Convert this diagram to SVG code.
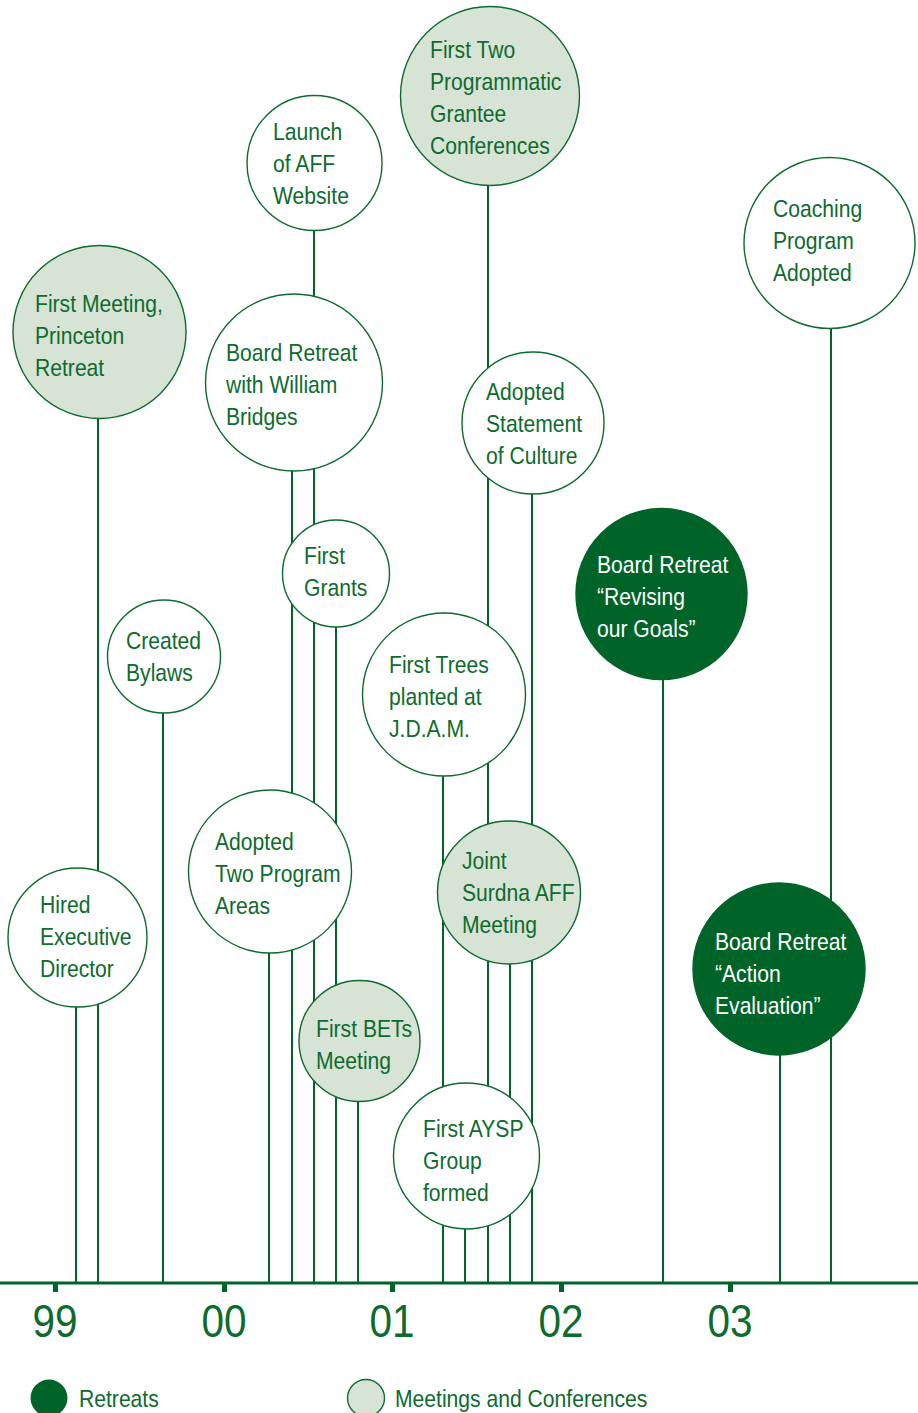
<svg xmlns="http://www.w3.org/2000/svg" width="918" height="1413" viewBox="0 0 918 1413">
<style>
text{font-family:"Liberation Sans",Arial,sans-serif;font-size:24px;fill:#0d6b2e}
.w{fill:#ffffff}
.n{fill:#ffffff;stroke:#0d6b2e;stroke-width:1.4}
.m{fill:#d7e3d5;stroke:#0d6b2e;stroke-width:1.4}
.r{fill:#006428;stroke:#006428;stroke-width:1.4}
.c line{stroke:#006428;stroke-width:2}
.yr{font-size:46px;text-anchor:middle}
</style>
<rect width="918" height="1413" fill="#ffffff"/>
<g id="connectors" class="c">
<line x1="76" y1="937" x2="76" y2="1283"/>
<line x1="98" y1="332" x2="98" y2="1283"/>
<line x1="163" y1="656" x2="163" y2="1283"/>
<line x1="269" y1="871" x2="269" y2="1283"/>
<line x1="292" y1="383" x2="292" y2="1283"/>
<line x1="314" y1="163" x2="314" y2="1283"/>
<line x1="336" y1="573" x2="336" y2="1283"/>
<line x1="358" y1="1041" x2="358" y2="1283"/>
<line x1="443" y1="695" x2="443" y2="1283"/>
<line x1="465" y1="1156" x2="465" y2="1283"/>
<line x1="488" y1="96" x2="488" y2="1283"/>
<line x1="510" y1="892" x2="510" y2="1283"/>
<line x1="532" y1="423" x2="532" y2="1283"/>
<line x1="663" y1="594" x2="663" y2="1283"/>
<line x1="780" y1="969" x2="780" y2="1283"/>
<line x1="831" y1="243" x2="831" y2="1283"/>
</g>
<g id="n-princeton"><circle class="m" cx="99.5" cy="332" r="86.5"/><g transform="translate(35 0) scale(.88 1)"><text x="0" y="312">First Meeting,</text><text x="0" y="344">Princeton</text><text x="0" y="376">Retreat</text></g></g>
<g id="n-launch"><circle class="n" cx="314.5" cy="163" r="67.5"/><g transform="translate(273 0) scale(.88 1)"><text x="0" y="140">Launch</text><text x="0" y="172">of AFF</text><text x="0" y="204">Website</text></g></g>
<g id="n-bridges"><circle class="n" cx="294" cy="382.5" r="88.5"/><g transform="translate(226 0) scale(.88 1)"><text x="0" y="361">Board Retreat</text><text x="0" y="393">with William</text><text x="0" y="425">Bridges</text></g></g>
<g id="n-grants"><circle class="n" cx="336" cy="573.5" r="53.5"/><g transform="translate(304 0) scale(.88 1)"><text x="0" y="564">First</text><text x="0" y="596">Grants</text></g></g>
<g id="n-bylaws"><circle class="n" cx="164" cy="656.5" r="56.5"/><g transform="translate(126 0) scale(.88 1)"><text x="0" y="649">Created</text><text x="0" y="681">Bylaws</text></g></g>
<g id="n-areas"><circle class="n" cx="270" cy="871.5" r="81.5"/><g transform="translate(215 0) scale(.88 1)"><text x="0" y="850">Adopted</text><text x="0" y="882">Two Program</text><text x="0" y="914">Areas</text></g></g>
<g id="n-hired"><circle class="n" cx="77.5" cy="937.5" r="69.5"/><g transform="translate(40 0) scale(.88 1)"><text x="0" y="913">Hired</text><text x="0" y="945">Executive</text><text x="0" y="977">Director</text></g></g>
<g id="n-bets"><circle class="m" cx="359.5" cy="1041" r="60.5"/><g transform="translate(316 0) scale(.88 1)"><text x="0" y="1037">First BETs</text><text x="0" y="1069">Meeting</text></g></g>
<g id="n-conferences"><circle class="m" cx="490" cy="96" r="89.5"/><g transform="translate(430 0) scale(.88 1)"><text x="0" y="58">First Two</text><text x="0" y="90">Programmatic</text><text x="0" y="122">Grantee</text><text x="0" y="154">Conferences</text></g></g>
<g id="n-culture"><circle class="n" cx="533" cy="423" r="71"/><g transform="translate(486 0) scale(.88 1)"><text x="0" y="400">Adopted</text><text x="0" y="432">Statement</text><text x="0" y="464">of Culture</text></g></g>
<g id="n-trees"><circle class="n" cx="444" cy="694.5" r="81.5"/><g transform="translate(389 0) scale(.88 1)"><text x="0" y="673">First Trees</text><text x="0" y="705">planted at</text><text x="0" y="737">J.D.A.M.</text></g></g>
<g id="n-surdna"><circle class="m" cx="509" cy="892.5" r="71.5"/><g transform="translate(462 0) scale(.88 1)"><text x="0" y="869">Joint</text><text x="0" y="901">Surdna AFF</text><text x="0" y="933">Meeting</text></g></g>
<g id="n-aysp"><circle class="n" cx="466.5" cy="1156" r="73"/><g transform="translate(423 0) scale(.88 1)"><text x="0" y="1137">First AYSP</text><text x="0" y="1169">Group</text><text x="0" y="1201">formed</text></g></g>
<g id="n-goals"><circle class="r" cx="661.5" cy="594" r="85.5"/><g transform="translate(597 0) scale(.88 1)"><text class="w" x="0" y="573">Board Retreat</text><text class="w" x="0" y="605">“Revising</text><text class="w" x="0" y="637">our Goals”</text></g></g>
<g id="n-coaching"><circle class="n" cx="829.5" cy="243" r="85.5"/><g transform="translate(773 0) scale(.88 1)"><text x="0" y="217">Coaching</text><text x="0" y="249">Program</text><text x="0" y="281">Adopted</text></g></g>
<g id="n-action"><circle class="r" cx="779" cy="969" r="86"/><g transform="translate(715 0) scale(.88 1)"><text class="w" x="0" y="950">Board Retreat</text><text class="w" x="0" y="982">“Action</text><text class="w" x="0" y="1014">Evaluation”</text></g></g>
<g id="axis">
<line x1="0" y1="1283" x2="918" y2="1283" stroke="#006428" stroke-width="3"/>
<g fill="#006428"><rect x="53" y="1283" width="5" height="9"/><rect x="222" y="1283" width="5" height="9"/><rect x="390" y="1283" width="5" height="9"/><rect x="559" y="1283" width="5" height="9"/><rect x="728" y="1283" width="5" height="9"/></g>
<g transform="translate(55 0) scale(.88 1)"><text class="yr" x="0" y="1337">99</text></g>
<g transform="translate(224 0) scale(.88 1)"><text class="yr" x="0" y="1337">00</text></g>
<g transform="translate(392 0) scale(.88 1)"><text class="yr" x="0" y="1337">01</text></g>
<g transform="translate(561 0) scale(.88 1)"><text class="yr" x="0" y="1337">02</text></g>
<g transform="translate(730 0) scale(.88 1)"><text class="yr" x="0" y="1337">03</text></g>
</g>
<g id="legend">
<circle cx="49" cy="1398" r="18.5" fill="#006428"/><g transform="translate(79 0) scale(.88 1)"><text x="0" y="1407">Retreats</text></g>
<circle cx="366" cy="1398" r="18.5" class="m"/><g transform="translate(395 0) scale(.88 1)"><text x="0" y="1407">Meetings and Conferences</text></g>
</g>
</svg>
